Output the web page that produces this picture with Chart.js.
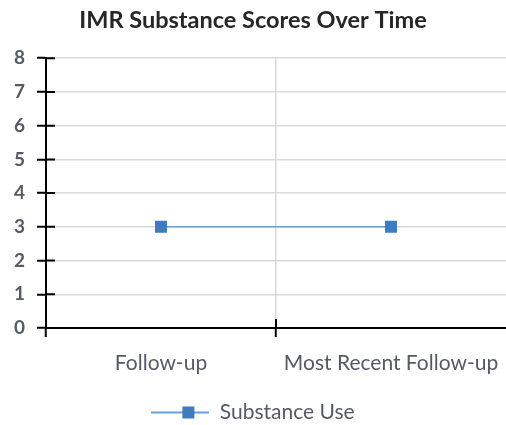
<!DOCTYPE html>
<html>
<head>
<meta charset="utf-8">
<script src="https://cdn.jsdelivr.net/npm/chart.js@4.4.1/dist/chart.umd.min.js"></script>
<style>
  html, body { margin: 0; padding: 0; background: #fff; }
  #wrap { width: 506px; height: 425px; }
</style>
</head>
<body>
<div id="wrap"><canvas id="imrChart"></canvas></div>
<script>
// ===================================
// IMR SUBSTANCE SCORES CHART
// ===================================

const categories = ['Follow-up', 'Most Recent Follow-up'];
const substanceUse = [3, 3];
const yMin = 0;
const yMax = 8;
const yStep = 1;

const lineColor = '#6a9fd8';
const markerColor = '#3e7cbf';
const gridColor = '#d9d9d9';
const labelColor = '#555a64';

// Legend symbol: short line with a square marker in the middle
function makeLegendSymbol() {
    const c = document.createElement('canvas');
    c.width = 58;
    c.height = 14;
    const g = c.getContext('2d');
    g.strokeStyle = lineColor;
    g.lineWidth = 2;
    g.beginPath();
    g.moveTo(0, 7);
    g.lineTo(58, 7);
    g.stroke();
    g.fillStyle = markerColor;
    g.fillRect(31, 1, 12, 12);
    return c;
}
const legendSymbol = makeLegendSymbol();

// Excel-style tick marks that cross the axis (inner half)
const crossTicks = {
    id: 'crossTicks',
    afterDraw(chart) {
        const ctx = chart.ctx;
        const x = chart.scales.x;
        const y = chart.scales.y;
        ctx.save();
        ctx.strokeStyle = '#000';
        ctx.lineWidth = 2;
        ctx.beginPath();
        y.ticks.forEach(t => {
            const py = y.getPixelForValue(t.value);
            ctx.moveTo(y.right, py);
            ctx.lineTo(y.right + 9, py);
        });
        for (let i = 0; i < categories.length - 1; i++) {
            const px = x.getPixelForValue(i + 0.5);
            ctx.moveTo(px, x.top);
            ctx.lineTo(px, x.top - 9);
        }
        ctx.stroke();
        ctx.restore();
    }
};

const isTick = c => c.type === 'tick';

new Chart(document.getElementById('imrChart').getContext('2d'), {
    type: 'line',
    data: {
        labels: categories,
        datasets: [{
            label: 'Substance Use',
            data: substanceUse,
            borderColor: lineColor,
            borderWidth: 1.5,
            backgroundColor: markerColor,
            pointStyle: 'rect',
            pointRadius: 8.5,
            pointHoverRadius: 8.5,
            pointBorderColor: markerColor,
            pointBackgroundColor: markerColor,
            pointBorderWidth: 0,
            tension: 0
        }]
    },
    options: {
        responsive: true,
        maintainAspectRatio: false,
        animation: false,
        layout: { autoPadding: false, padding: { left: 0, right: 0, top: 0, bottom: -8 } },
        scales: {
            x: {
                offset: true,
                grid: {
                    offset: true,
                    color: c => isTick(c) ? gridColor : 'rgba(0,0,0,0)',
                    tickColor: c => isTick(c) ? '#000' : 'rgba(0,0,0,0)',
                    tickLength: 9,
                    lineWidth: 1.5,
                    tickWidth: 2
                },
                border: { color: '#000', width: 2 },
                ticks: {
                    color: labelColor,
                    padding: 14,
                    maxRotation: 0,
                    font: { family: 'Lato', size: 21 }
                },
                afterFit: s => {
                    s.paddingLeft = 0;
                    s.paddingRight = 0;
                    s.height = 72;
                }
            },
            y: {
                min: yMin,
                max: yMax,
                grid: {
                    color: gridColor,
                    tickColor: '#000',
                    tickLength: 9,
                    lineWidth: 1.5,
                    tickWidth: 2
                },
                border: { color: '#000', width: 2 },
                ticks: {
                    stepSize: yStep,
                    color: labelColor,
                    padding: 12,
                    font: { family: 'Lato', size: 19, weight: 'bold' }
                },
                afterFit: s => { s.width = 46; }
            }
        },
        plugins: {
            title: {
                display: true,
                text: 'IMR Substance Scores Over Time',
                color: '#262626',
                font: { family: 'Lato', size: 23.5, weight: 'bold' },
                padding: { top: 6, bottom: 24 }
            },
            legend: {
                position: 'bottom',
                labels: {
                    color: labelColor,
                    font: { family: 'Lato', size: 21 },
                    usePointStyle: true,
                    pointStyleWidth: 58,
                    boxHeight: 14,
                    padding: 2,
                    generateLabels: chart => chart.data.datasets.map((ds, i) => ({
                        text: ds.label,
                        fontColor: labelColor,
                        pointStyle: legendSymbol,
                        datasetIndex: i,
                        hidden: false,
                        lineWidth: 0
                    }))
                }
            },
            tooltip: { enabled: false }
        }
    },
    plugins: [crossTicks]
});
</script>
</body>
</html>
